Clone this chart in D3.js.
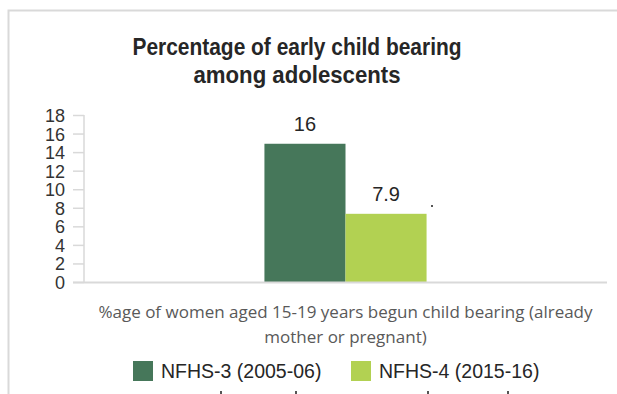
<!DOCTYPE html>
<html>
<head>
<meta charset="utf-8">
<title>Early child bearing</title>
<script src="https://d3js.org/d3.v7.min.js"></script>
<style>
  body { margin: 0; background: #fff; }
  svg { display: block; }
  .tick text { font-family: "Liberation Sans", Arial, sans-serif; font-size: 18px; fill: #333; }
</style>
</head>
<body>
<svg width="617" height="394"></svg>
<script>
const categories = ["%age of women aged 15-19 years begun child bearing (already|mother or pregnant)"];
const series = ["NFHS-3 (2005-06)", "NFHS-4 (2015-16)"];
// bar heights as drawn in the picture, and the labels printed above them
const barValues = [14.9, 7.35];
const valueLabels = ["16", "7.9"];
const yTicks = [0, 2, 4, 6, 8, 10, 12, 14, 16, 18];
const colors = ["#46775a", "#b2d152"];

const svg = d3.select("svg");
const plotLeft = 84, plotRight = 607, plotTop = 115, plotBottom = 282;

// outer frame
svg.append("path")
  .attr("d", "M8.5,394 V10.5 H640")
  .attr("fill", "none").attr("stroke", "#d9d9d9").attr("stroke-width", 2);

// title (narrow, tall lettering in the original)
const titleLines = [["Percentage of early child bearing", 329], ["among adolescents", 207]];
svg.append("g").selectAll("text")
  .data(titleLines)
  .join("text")
  .attr("x", 297).attr("y", (d, i) => 55 + i * 28)
  .attr("text-anchor", "middle")
  .attr("textLength", d => d[1])
  .attr("lengthAdjust", "spacingAndGlyphs")
  .style("font", "bold 24px 'Liberation Sans', Arial, sans-serif")
  .attr("fill", "#262626")
  .text(d => d[0]);

const y = d3.scaleLinear().domain([0, 18]).range([plotBottom, plotTop]);
const x0 = d3.scaleBand().domain(categories).range([plotLeft, plotRight]);
const x1 = d3.scaleBand().domain(series)
  .range([x0.bandwidth() * 0.345, x0.bandwidth() * 0.655]);

// y axis
const yAxis = svg.append("g")
  .attr("transform", `translate(${plotLeft},0)`)
  .call(d3.axisLeft(y).tickValues(yTicks).tickSize(11).tickPadding(8));
yAxis.select(".domain").attr("stroke", "#d9d9d9").attr("stroke-width", 1.5)
  .attr("d", `M0,${plotTop}V${plotBottom}`);
yAxis.selectAll(".tick line").attr("stroke", "#d9d9d9").attr("stroke-width", 1.5);
yAxis.selectAll(".tick text").attr("dy", "0.36em");

// bars
const g = svg.append("g").attr("transform", `translate(${x0(categories[0])},0)`);
g.selectAll("rect")
  .data(barValues)
  .join("rect")
  .attr("x", (d, i) => x1(series[i]))
  .attr("y", d => y(d))
  .attr("width", x1.bandwidth())
  .attr("height", d => y(0) - y(d))
  .attr("fill", (d, i) => colors[i]);

g.selectAll("text.val")
  .data(barValues)
  .join("text")
  .attr("class", "val")
  .attr("x", (d, i) => x1(series[i]) + x1.bandwidth() / 2)
  .attr("y", d => y(d) - 13)
  .attr("text-anchor", "middle")
  .style("font", "20px 'Liberation Sans', Arial, sans-serif")
  .attr("fill", "#262626")
  .text((d, i) => valueLabels[i]);

// stray dot next to the second bar
svg.append("rect").attr("x", 431).attr("y", 205).attr("width", 2).attr("height", 2).attr("fill", "#555");

// x baseline
svg.append("line")
  .attr("x1", plotLeft - 11).attr("x2", plotRight)
  .attr("y1", plotBottom + 0.5).attr("y2", plotBottom + 0.5)
  .attr("stroke", "#d9d9d9").attr("stroke-width", 2);

// category label
svg.append("text")
  .attr("text-anchor", "middle")
  .style("font", "17px 'Open Sans', sans-serif")
  .attr("fill", "#595959")
  .selectAll("tspan")
  .data(categories[0].split("|"))
  .join("tspan")
  .attr("x", x0(categories[0]) + x0.bandwidth() / 2)
  .attr("y", (d, i) => 318 + i * 25)
  .text(d => d);

// legend
const legendX = [133, 351];
const lg = svg.append("g").selectAll("g")
  .data(series)
  .join("g")
  .attr("transform", (d, i) => `translate(${legendX[i]},361)`);
lg.append("rect").attr("width", 20).attr("height", 20).attr("fill", (d, i) => colors[i]);
lg.append("text")
  .attr("x", 28).attr("y", 17)
  .style("font", "19.5px 'Liberation Sans', Arial, sans-serif")
  .attr("fill", "#262626")
  .text(d => d);

// small marks along the bottom edge
svg.selectAll("rect.mark")
  .data([220, 295, 427, 507])
  .join("rect")
  .attr("class", "mark")
  .attr("x", d => d).attr("y", 391).attr("width", 2).attr("height", 3)
  .attr("fill", "#555");
</script>
</body>
</html>
